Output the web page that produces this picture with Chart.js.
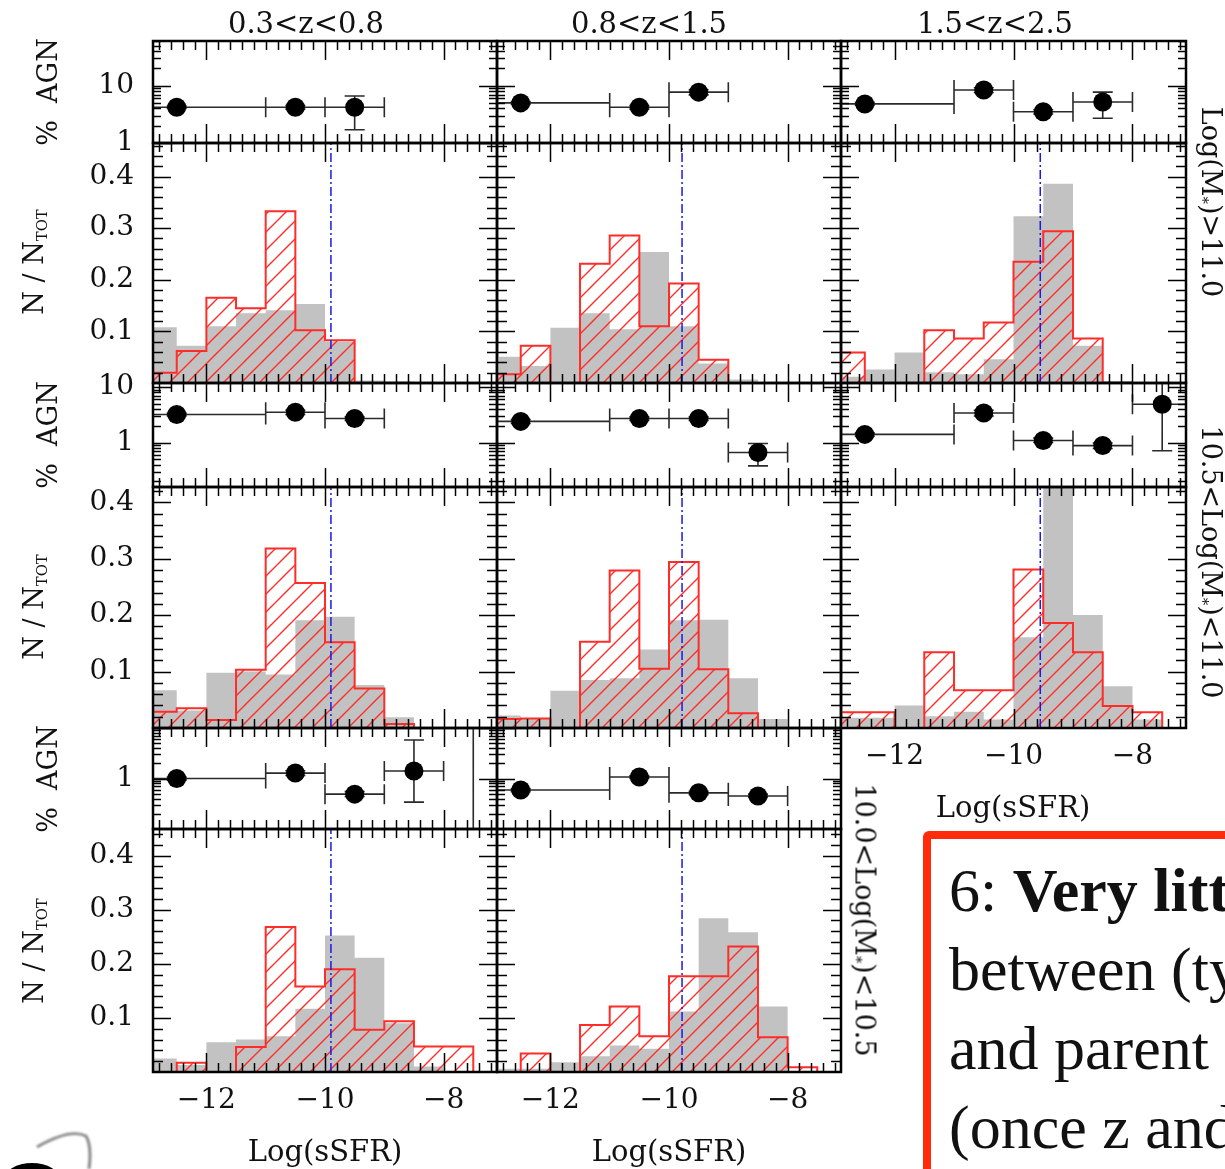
<!DOCTYPE html>
<html>
<head>
<meta charset="utf-8">
<script src="https://cdn.jsdelivr.net/npm/chart.js@4.4.1/dist/chart.umd.min.js"></script>
<style>
  html, body { margin: 0; padding: 0; }
  body {
    width: 1225px; height: 1169px; position: relative; overflow: hidden;
    background: #fff; font-family: "DejaVu Serif", serif; color: #111;
  }
  canvas { position: absolute; }
  .t { position: absolute; white-space: nowrap; font-size: 29px; line-height: 1; transform: translate(-50%, -50%); }
  .t.up { transform: translate(-50%, -50%) rotate(-90deg); font-size: 27px; }
  .t.down { transform: translate(-50%, -50%) rotate(90deg); font-size: 27px; }
  .t sub { font-size: 55%; vertical-align: baseline; position: relative; top: 0.3em; }
  #note {
    position: absolute; left: 923px; top: 831px; width: 420px; height: 420px;
    border: 8px solid rgb(255, 43, 10); border-radius: 6px; box-sizing: border-box;
    padding: 12px 0 0 18px; font: 62px/79px "Liberation Serif", serif; color: #111; white-space: nowrap;
  }
  #logo { position: absolute; left: 0; top: 1120px; }
</style>
</head>
<body>

<div id="note">6: <b>Very little</b><br>between (typical)<br>and parent<br>(once z and</div>
<svg id="logo" width="110" height="49">
  <defs><filter id="bl"><feGaussianBlur stdDeviation="1.2"/></filter></defs>
  <path d="M37 27 Q 70 8 86 16 Q 92 26 89 49" fill="none" stroke="#888" stroke-width="3" filter="url(#bl)"/>
  <ellipse cx="32" cy="60" rx="28" ry="17" fill="#000"/>
</svg>

<script>
// sSFR bins (0.5 dex) of the N/N_TOT histograms
const binEdges = [-13, -12.5, -12, -11.5, -11, -10.5, -10, -9.5, -9, -8.5, -8, -7.5, -7];

// grey: parent sample, red hatched: AGN hosts.  hi = Log(M*)>11, mid = 10.5-11, lo = 10-10.5
const parentHi_z1  = [0.108, 0.072, 0.110, 0.135, 0.141, 0.153, 0.080, 0.005, 0.003, 0.002, 0, 0];
const agnHi_z1     = [0.020, 0.062, 0.165, 0.145, 0.333, 0.102, 0.083, 0, 0, 0, 0, 0];
const parentHi_z2  = [0.051, 0.033, 0.107, 0.135, 0.104, 0.254, 0.110, 0.038, 0.007, 0, 0, 0];
const agnHi_z2     = [0.017, 0.072, 0, 0.231, 0.286, 0.110, 0.193, 0.045, 0, 0, 0, 0];
const parentHi_z3  = [0.012, 0.026, 0.059, 0.021, 0.017, 0.046, 0.323, 0.386, 0.072, 0.004, 0, 0];
const agnHi_z3     = [0.059, 0, 0, 0.102, 0.086, 0.117, 0.235, 0.294, 0.086, 0, 0, 0];

const parentMid_z1 = [0.067, 0.031, 0.098, 0.100, 0.095, 0.191, 0.197, 0.076, 0.019, 0, 0, 0];
const agnMid_z1    = [0.029, 0.035, 0.014, 0.103, 0.318, 0.257, 0.152, 0.070, 0.007, 0, 0, 0];
const parentMid_z2 = [0.022, 0.016, 0.066, 0.085, 0.088, 0.139, 0.191, 0.192, 0.088, 0.016, 0, 0];
const agnMid_z2    = [0.016, 0.017, 0, 0.153, 0.279, 0.105, 0.294, 0.104, 0.026, 0, 0, 0];
const parentMid_z3 = [0.018, 0.018, 0.040, 0.021, 0.029, 0.015, 0.161, 0.450, 0.200, 0.074, 0.015, 0];
const agnMid_z3    = [0.028, 0.028, 0, 0.134, 0.067, 0.067, 0.281, 0.186, 0.134, 0.039, 0.028, 0];

const parentLo_z1  = [0.025, 0.013, 0.055, 0.060, 0.066, 0.117, 0.252, 0.211, 0.090, 0.010, 0, 0];
const agnLo_z1     = [0, 0.017, 0, 0.046, 0.268, 0.158, 0.190, 0.078, 0.094, 0.047, 0.047, 0];
const parentLo_z2  = [0.006, 0.006, 0.018, 0.029, 0.049, 0.043, 0.112, 0.284, 0.258, 0.121, 0, 0];
const agnLo_z2     = [0, 0.034, 0, 0.087, 0.121, 0.066, 0.177, 0.177, 0.232, 0.064, 0.009, 0];

// % AGN points: bin centre and bin limits in Log(sSFR)
const pctX   = [-12.5, -10.5, -9.5, -8.5, -7.5];
const pctXlo = [-14, -11, -10, -9, -8];
const pctXhi = [-11, -10, -9, -8, -7];

const pctHi_z1 = [4.2, 4.2, 4.2],            pctHi_z1Lo = [4.0, 3.9, 1.7],            pctHi_z1Up = [4.4, 4.5, 6.6];
const pctHi_z2 = [5.0, 4.2, 7.7],            pctHi_z2Lo = [4.7, 3.9, 6.9],            pctHi_z2Up = [5.3, 4.5, 8.5];
const pctHi_z3 = [4.8, 8.4, 3.5, 5.2],       pctHi_z3Lo = [4.5, 7.6, 3.2, 2.7],       pctHi_z3Up = [5.1, 9.2, 3.8, 7.7];
const pctMid_z1 = [3.2, 3.5, 2.7],           pctMid_z1Lo = [3.0, 3.2, 2.5],           pctMid_z1Up = [3.4, 3.8, 2.9];
const pctMid_z2 = [2.4, 2.7, 2.7, 0.66],     pctMid_z2Lo = [2.2, 2.5, 2.5, 0.38],     pctMid_z2Up = [2.6, 2.9, 2.9, 0.96];
const pctMid_z3 = [1.4, 3.4, 1.09, 0.88, 4.9], pctMid_z3Lo = [1.3, 3.0, 1.0, 0.78, 0.71], pctMid_z3Up = [1.5, 3.8, 1.2, 0.98, 14];
const pctLo_z1 = [1.0, 1.28, 0.49, 1.41, 30], pctLo_z1Lo = [0.93, 1.15, 0.44, 0.34, 0.05], pctLo_z1Up = [1.07, 1.42, 0.55, 5.8, 100];
const pctLo_z2 = [0.59, 1.07, 0.52, 0.45],   pctLo_z2Lo = [0.55, 1.0, 0.48, 0.42],    pctLo_z2Up = [0.63, 1.15, 0.56, 0.49];

// vertical dash-dot line (per redshift bin)
const sSFRcut = [-9.9, -9.78, -9.55];

// tick labels
const xTickVals = [-12, -10, -8];
const xTickText = ['\u221212', '\u221210', '\u22128'];
const histTickVals = [0.1, 0.2, 0.3, 0.4];
const histTickText = ['0.1', '0.2', '0.3', '0.4'];
const pctTickVals = [1, 10];
const pctTickText = ['1', '10'];

const zLabels = ['0.3&lt;z&lt;0.8', '0.8&lt;z&lt;1.5', '1.5&lt;z&lt;2.5'];
const massLabels = ['Log(M<sub>*</sub>)&gt;11.0', '10.5&lt;Log(M<sub>*</sub>)&lt;11.0', '10.0&lt;Log(M<sub>*</sub>)&lt;10.5'];

// axis ranges
const X_MIN = -12.9, X_MAX = -7.1;
const histMax = [0.465, 0.427, 0.449];
const pctRange = [[1, 60], [0.158, 11.8], [0.1, 10]];

// layout (pixel frame of every panel)
const colX = [153, 497, 841, 1186];
const rowY = [[41, 143, 383], [383, 487, 728], [728, 829, 1072]];
const PAD = 70;

const RED = 'rgb(255, 45, 40)';
const GREY = 'rgb(194, 194, 194)';
const BLUE = 'rgb(25, 25, 235)';
const FONT = '28px "DejaVu Serif"';

const grid = [
  [
    { parent: parentHi_z1, agn: agnHi_z1, pct: pctHi_z1, lo: pctHi_z1Lo, up: pctHi_z1Up },
    { parent: parentHi_z2, agn: agnHi_z2, pct: pctHi_z2, lo: pctHi_z2Lo, up: pctHi_z2Up },
    { parent: parentHi_z3, agn: agnHi_z3, pct: pctHi_z3, lo: pctHi_z3Lo, up: pctHi_z3Up },
  ],
  [
    { parent: parentMid_z1, agn: agnMid_z1, pct: pctMid_z1, lo: pctMid_z1Lo, up: pctMid_z1Up },
    { parent: parentMid_z2, agn: agnMid_z2, pct: pctMid_z2, lo: pctMid_z2Lo, up: pctMid_z2Up },
    { parent: parentMid_z3, agn: agnMid_z3, pct: pctMid_z3, lo: pctMid_z3Lo, up: pctMid_z3Up },
  ],
  [
    { parent: parentLo_z1, agn: agnLo_z1, pct: pctLo_z1, lo: pctLo_z1Lo, up: pctLo_z1Up },
    { parent: parentLo_z2, agn: agnLo_z2, pct: pctLo_z2, lo: pctLo_z2Lo, up: pctLo_z2Up },
    null,
  ],
];

// minor ticks
const xMinor = [];
for (let k = -64; k <= -36; k++) if (k % 10 !== 0) xMinor.push(k / 5);
const histMinor = [];
for (let k = 1; k <= 23; k++) if (k % 5 !== 0) histMinor.push(k / 50);
const pctMinor = [];
[0.1, 1, 10].forEach(d => { for (let m = 2; m <= 9; m++) pctMinor.push(d * m); });

function hatchPattern(ctx) {
  const s = 18;
  const tile = document.createElement('canvas');
  tile.width = s; tile.height = s;
  const g = tile.getContext('2d');
  g.strokeStyle = RED;
  g.lineWidth = 1.4;
  g.beginPath();
  g.moveTo(-1, s + 1); g.lineTo(s + 1, -1);
  g.moveTo(-3, 3); g.lineTo(3, -3);
  g.moveTo(s - 3, s + 3); g.lineTo(s + 3, s - 3);
  g.stroke();
  return ctx.createPattern(tile, 'repeat');
}

// frame with inward ticks on four sides, plus tick labels
const panelFrame = {
  id: 'panelFrame',
  afterDraw(chart, args, o) {
    const { ctx, chartArea: a } = chart;
    const xs = chart.scales.x, ys = chart.scales.y;
    const inX = p => p >= a.left - 0.5 && p <= a.right + 0.5;
    const inY = p => p >= a.top - 0.5 && p <= a.bottom + 0.5;
    ctx.save();
    ctx.strokeStyle = '#000';
    ctx.lineWidth = 1.5;
    ctx.beginPath();
    const tx = (v, len) => {
      const p = Math.round(xs.getPixelForValue(v)) + 0.5;
      if (!inX(p)) return;
      ctx.moveTo(p, a.top); ctx.lineTo(p, a.top + len);
      ctx.moveTo(p, a.bottom); ctx.lineTo(p, a.bottom - len);
    };
    const ty = (v, len) => {
      const p = Math.round(ys.getPixelForValue(v)) + 0.5;
      if (!inY(p)) return;
      ctx.moveTo(a.left, p); ctx.lineTo(a.left + len, p);
      ctx.moveTo(a.right, p); ctx.lineTo(a.right - len, p);
    };
    xTickVals.forEach(v => tx(v, 19));
    xMinor.forEach(v => tx(v, 9));
    o.yMajor.forEach(v => ty(v, 18));
    o.yMinor.forEach(v => ty(v, o.minorLen));
    ctx.stroke();
    ctx.lineWidth = 2.5;
    ctx.strokeRect(a.left, a.top, a.right - a.left, a.bottom - a.top);

    ctx.fillStyle = '#111';
    ctx.font = FONT;
    if (o.yLabels) {
      ctx.textAlign = 'right';
      ctx.textBaseline = 'middle';
      o.yMajor.forEach((v, i) => {
        if (v < ys.min * 0.999 || v > ys.max * 0.999) return;
        ctx.fillText(o.yText[i], a.left - 19, ys.getPixelForValue(v));
      });
    }
    if (o.xLabels) {
      ctx.textAlign = 'center';
      ctx.textBaseline = 'middle';
      xTickVals.forEach((v, i) => ctx.fillText(xTickText[i], xs.getPixelForValue(v), a.bottom + 29));
    }
    ctx.restore();
  }
};

// x and y error bars of the % AGN points
const errorBars = {
  id: 'errorBars',
  beforeDatasetsDraw(chart) {
    const ds = chart.data.datasets[0];
    if (!ds.yLo) return;
    const { ctx, chartArea: a } = chart;
    const xs = chart.scales.x, ys = chart.scales.y;
    ctx.save();
    ctx.beginPath();
    ctx.rect(a.left, a.top, a.right - a.left, a.bottom - a.top);
    ctx.clip();
    ctx.strokeStyle = '#2a2a2a';
    ctx.lineWidth = 1.6;
    ctx.beginPath();
    ds.data.forEach((p, i) => {
      const px = xs.getPixelForValue(p.x), py = ys.getPixelForValue(p.y);
      const x0 = xs.getPixelForValue(ds.xLo[i]), x1 = xs.getPixelForValue(ds.xHi[i]);
      const y0 = ys.getPixelForValue(ds.yLo[i]), y1 = ys.getPixelForValue(ds.yUp[i]);
      ctx.moveTo(x0, py); ctx.lineTo(x1, py);
      ctx.moveTo(x0, py - 10); ctx.lineTo(x0, py + 10);
      ctx.moveTo(x1, py - 10); ctx.lineTo(x1, py + 10);
      ctx.moveTo(px, y0); ctx.lineTo(px, y1);
      ctx.moveTo(px - 10, y0); ctx.lineTo(px + 10, y0);
      ctx.moveTo(px - 10, y1); ctx.lineTo(px + 10, y1);
    });
    ctx.stroke();
    ctx.restore();
  }
};

function makeCanvas(x, y, w, h) {
  const c = document.createElement('canvas');
  c.width = w + 2 * PAD;
  c.height = h + 2 * PAD;
  c.style.left = (x - PAD) + 'px';
  c.style.top = (y - PAD) + 'px';
  document.body.appendChild(c);
  return c;
}

function baseOptions(yScale, frame) {
  return {
    responsive: false,
    animation: false,
    devicePixelRatio: 1,
    events: [],
    layout: { padding: PAD },
    plugins: { legend: { display: false }, tooltip: { enabled: false }, panelFrame: frame },
    scales: {
      x: { type: 'linear', min: X_MIN, max: X_MAX, display: false },
      y: yScale
    }
  };
}

function histChart(row, col, d) {
  const x0 = colX[col], x1 = colX[col + 1];
  const y0 = rowY[row][1], y1 = rowY[row][2];
  const ctx = makeCanvas(x0, y0, x1 - x0, y1 - y0).getContext('2d');
  const steps = vals => binEdges.map((e, i) => ({ x: e, y: i < vals.length ? vals[i] : 0 }));
  const lastRow = (row === 2) || (row === 1 && col === 2);
  new Chart(ctx, {
    type: 'line',
    data: {
      datasets: [
        { label: 'parent sample', data: steps(d.parent), stepped: true, fill: 'origin',
          backgroundColor: GREY, borderColor: 'rgba(0,0,0,0)', borderWidth: 0, pointRadius: 0, order: 2, clip: 0 },
        { label: 'AGN hosts', data: steps(d.agn), stepped: true, fill: 'origin',
          backgroundColor: hatchPattern(ctx), borderColor: RED, borderWidth: 2, pointRadius: 0, order: 1, clip: 0 },
        { label: 'sSFR cut', data: [{ x: sSFRcut[col], y: 0 }, { x: sSFRcut[col], y: 1 }], fill: false,
          borderColor: BLUE, borderWidth: 1.5, borderDash: [9, 3, 2, 3], pointRadius: 0, order: 0, clip: 0 }
      ]
    },
    options: baseOptions(
      { type: 'linear', min: 0, max: histMax[row], display: false },
      { yMajor: histTickVals, yText: histTickText, yMinor: histMinor, minorLen: 10,
        yLabels: col === 0, xLabels: lastRow }
    ),
    plugins: [panelFrame]
  });
}

function pctChart(row, col, d) {
  const x0 = colX[col], x1 = colX[col + 1];
  const y0 = rowY[row][0], y1 = rowY[row][1];
  const ctx = makeCanvas(x0, y0, x1 - x0, y1 - y0).getContext('2d');
  const n = d.pct.length;
  new Chart(ctx, {
    type: 'scatter',
    data: {
      datasets: [{
        label: '% AGN',
        data: d.pct.map((v, i) => ({ x: pctX[i], y: v })),
        xLo: pctXlo.slice(0, n), xHi: pctXhi.slice(0, n), yLo: d.lo, yUp: d.up,
        pointRadius: 9.5, backgroundColor: '#000', borderWidth: 0, clip: 0
      }]
    },
    options: baseOptions(
      { type: 'logarithmic', min: pctRange[row][0], max: pctRange[row][1], display: false },
      { yMajor: pctTickVals, yText: pctTickText, yMinor: pctMinor, minorLen: 8,
        yLabels: col === 0, xLabels: false }
    ),
    plugins: [errorBars, panelFrame]
  });
}

grid.forEach((r, row) => r.forEach((d, col) => {
  if (!d) return;
  histChart(row, col, d);
  pctChart(row, col, d);
}));

// text labels
function label(html, x, y, cls) {
  const el = document.createElement('div');
  el.className = 't' + (cls ? ' ' + cls : '');
  el.innerHTML = html;
  el.style.left = x + 'px';
  el.style.top = y + 'px';
  document.body.appendChild(el);
}
const zTitleX = [306, 649, 995];
zLabels.forEach((s, i) => label(s, zTitleX[i], 23));
const agnLabelY = [92, 435, 779];
const nLabelY = [262, 607, 951];
agnLabelY.forEach(y => label('%&nbsp;&nbsp;AGN', 47, y, 'up'));
nLabelY.forEach(y => label('N / N<sub>TOT</sub>', 33, y, 'up'));
const massPos = [[1211, 202], [1211, 562], [865, 920]];
massLabels.forEach((s, i) => label(s, massPos[i][0], massPos[i][1], 'down'));
const ssfrPos = [[325, 1151], [669, 1151], [1013, 807]];
ssfrPos.forEach(p => label('Log(sSFR)', p[0], p[1]));
</script>
</body>
</html>
